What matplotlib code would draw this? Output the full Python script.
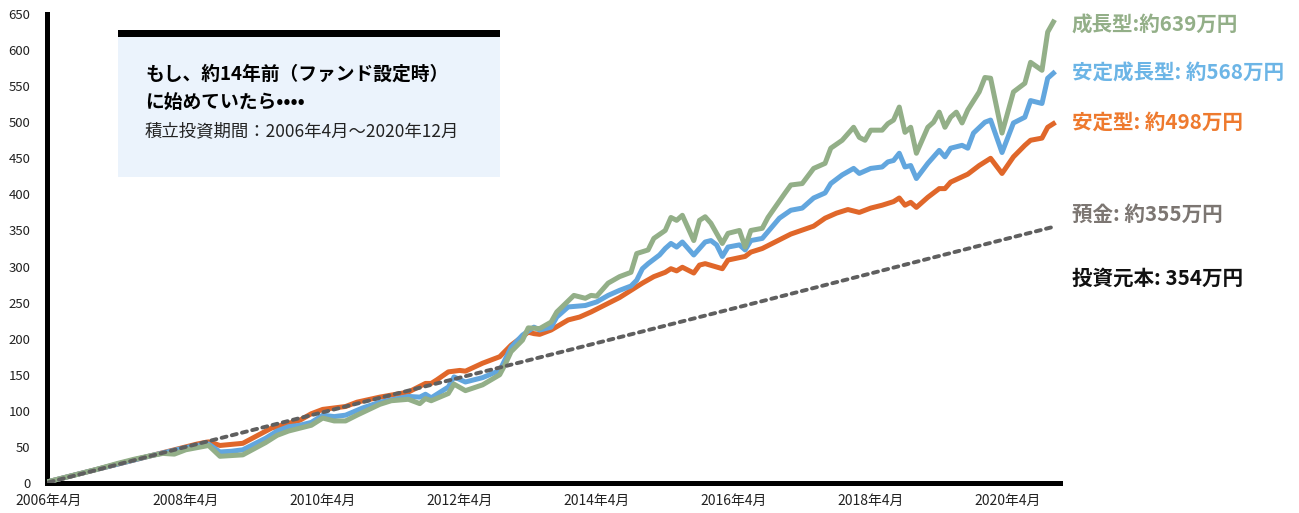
import matplotlib.pyplot as plt
from matplotlib.patches import Rectangle

plt.rcParams['font.family'] = ['Noto Sans CJK JP', 'DejaVu Sans']

# months counted from 2006年4月
tick_months = [0, 24, 48, 72, 96, 120, 144, 168]
tick_labels = ["2006年4月", "2008年4月", "2010年4月", "2012年4月",
               "2014年4月", "2016年4月", "2018年4月", "2020年4月"]

growth_m = [0, 4, 8, 12, 15, 18, 20, 22, 24, 26, 28, 30, 32, 34, 38, 40, 42, 44, 46, 48,
            50, 52, 54, 58, 60, 63, 65, 66, 67, 70, 71, 73, 76, 79, 80, 81, 83, 84, 86, 88,
            89, 92, 94, 95, 96, 98, 100, 102, 103, 105, 106, 108, 109, 110, 111, 113, 114,
            115, 116, 118, 119, 121, 122, 123, 125, 126, 129, 130, 132, 134, 136, 137, 139,
            141, 142, 143, 144, 146, 147, 148, 149, 150, 151, 152, 154, 155, 156, 157, 158,
            159, 160, 161, 163, 164, 165, 167, 169, 171, 172, 174, 175, 176]
growth_v = [2, 10, 18, 27, 33, 38, 41, 40, 46, 49, 52, 37, 38, 39, 56, 66, 72, 76, 80, 90,
            86, 86, 94, 109, 114, 116, 110, 117, 114, 124, 137, 128, 136, 150, 165, 182, 198, 215, 214, 223,
            237, 260, 256, 260, 259, 277, 286, 292, 318, 323, 339, 350, 368, 364, 371, 336, 364,
            369, 360, 332, 346, 350, 327, 350, 353, 368, 402, 413, 415, 436, 443, 464, 475,
            493, 479, 475, 489, 489, 498, 503, 521, 486, 493, 457, 493, 500, 514, 493, 507,
            514, 499, 517, 542, 562, 561, 485, 542, 554, 583, 572, 625, 639]

stable_growth_m = [0, 6, 12, 18, 24, 26, 28, 30, 32, 34, 38, 40, 42, 44, 46, 48, 50, 52, 55, 58,
                   63, 65, 66, 67, 70, 71, 73, 76, 79, 81, 83, 85, 86, 88, 89, 91, 94, 96, 98,
                   100, 102, 103, 104, 105, 107, 108, 109, 110, 111, 113, 115, 116, 117, 118, 119,
                   121, 122, 123, 125, 128, 130, 132, 134, 136, 137, 139, 141, 142, 144, 146, 147,
                   148, 149, 150, 151, 152, 154, 155, 156, 157, 158, 160, 161, 162, 164, 165, 167,
                   169, 171, 172, 174, 175, 176]
stable_growth_v = [2, 14, 26, 38, 49, 52, 54, 43, 44, 46, 62, 72, 78, 80, 84, 94, 92, 94, 104, 112,
                   120, 119, 123, 118, 133, 147, 140, 146, 156, 188, 205, 216, 212, 216, 230, 244, 246, 251, 260,
                   267, 273, 281, 297, 304, 316, 325, 332, 327, 334, 316, 334, 336, 330, 314, 327,
                   330, 323, 336, 339, 367, 378, 381, 395, 402, 415, 427, 436, 429, 436, 438, 445,
                   447, 457, 438, 440, 422, 443, 452, 461, 452, 464, 468, 464, 485, 500, 503, 458,
                   499, 507, 530, 526, 561, 568]

stable_m = [0, 6, 12, 18, 24, 26, 28, 30, 34, 39, 44, 46, 48, 50, 52, 54, 58, 63, 66, 67, 68,
            70, 72, 73, 76, 79, 81, 84, 85, 86, 88, 91, 93, 95, 98, 100, 102, 104, 106, 108,
            109, 110, 111, 113, 114, 115, 118, 119, 122, 123, 125, 130, 134, 136, 138, 140,
            142, 144, 146, 148, 149, 150, 151, 152, 154, 156, 157, 158, 161, 163, 165, 167,
            169, 171, 172, 174, 175, 176]
stable_v = [2, 14, 26, 38, 50, 54, 57, 52, 55, 76, 87, 96, 102, 104, 106, 112, 119, 126, 138, 138, 143,
            154, 156, 155, 166, 175, 191, 209, 207, 206, 212, 226, 230, 237, 249, 257, 267, 277, 286, 292,
            297, 294, 299, 291, 302, 304, 297, 309, 314, 320, 325, 345, 356, 367, 374, 379,
            375, 381, 385, 390, 395, 385, 389, 382, 396, 408, 408, 417, 428, 440, 450, 429,
            452, 468, 475, 478, 493, 498]

deposit_m = [0, 24, 72, 120, 176]
deposit_v = [1, 50, 146, 242, 355]

fig = plt.figure(figsize=(12.99, 5.13), dpi=100)
ax = fig.add_axes([0.0362, 0.0585, 0.78, 0.9142])
ax.set_facecolor("none")

ax.plot(stable_m, stable_v, color="#E0672A", lw=3.6, solid_joinstyle="round", zorder=3)
ax.plot(stable_growth_m, stable_growth_v, color="#62A6DE", lw=3.6, solid_joinstyle="round", zorder=4)
ax.plot(growth_m, growth_v, color="#93AF88", lw=3.6, solid_joinstyle="round", zorder=5)
ax.plot(deposit_m, deposit_v, color="#5F5F5F", lw=2.8, linestyle=(0, (1.3, 1.4)),
        dash_capstyle="round", zorder=6)

ax.set_xlim(-0.3, 177.2)
ax.set_ylim(0, 650)
ax.set_yticks(range(0, 651, 50))
ax.set_xticks(tick_months)
ax.set_xticklabels(tick_labels)
ax.tick_params(axis="y", length=0, pad=12, labelsize=9.5, labelcolor="#222222")
ax.tick_params(axis="x", length=0, pad=8, labelsize=10, labelcolor="#222222")
for s in ["top", "right"]:
    ax.spines[s].set_visible(False)
for s in ["left", "bottom"]:
    ax.spines[s].set_linewidth(3.6)
    ax.spines[s].set_color("black")

# message box
W, H = 1299, 513
fig.add_artist(Rectangle((118 / W, 1 - 177 / H), 382 / W, 147 / H,
                         transform=fig.transFigure, facecolor="#EBF3FC", edgecolor="none", zorder=0))
fig.add_artist(Rectangle((118 / W, 1 - 37 / H), 382 / W, 7 / H,
                         transform=fig.transFigure, facecolor="black", edgecolor="none", zorder=1))
fig.text(145 / W, 1 - 74 / H, "もし、約14年前（ファンド設定時）", fontsize=13.5, fontweight="bold",
         va="center", ha="left", color="black")
fig.text(145 / W, 1 - 102 / H, "に始めていたら••••", fontsize=13.5, fontweight="bold",
         va="center", ha="left", color="black")
fig.text(145 / W, 1 - 131 / H, "積立投資期間：2006年4月～2020年12月", fontsize=12.5,
         va="center", ha="left", color="#222222")

# end labels
labels = [("成長型:約639万円", 25, "#93AF88"),
          ("安定成長型: 約568万円", 73, "#6CB5E6"),
          ("安定型: 約498万円", 122, "#EE7A2E"),
          ("預金: 約355万円", 214, "#7C7672"),
          ("投資元本: 354万円", 278, "#111111")]
for txt, y, c in labels:
    fig.text(1072 / W, 1 - y / H, txt, fontsize=14.8, fontweight="bold",
             va="center", ha="left", color=c)

fig.savefig("out.png", dpi=100)
